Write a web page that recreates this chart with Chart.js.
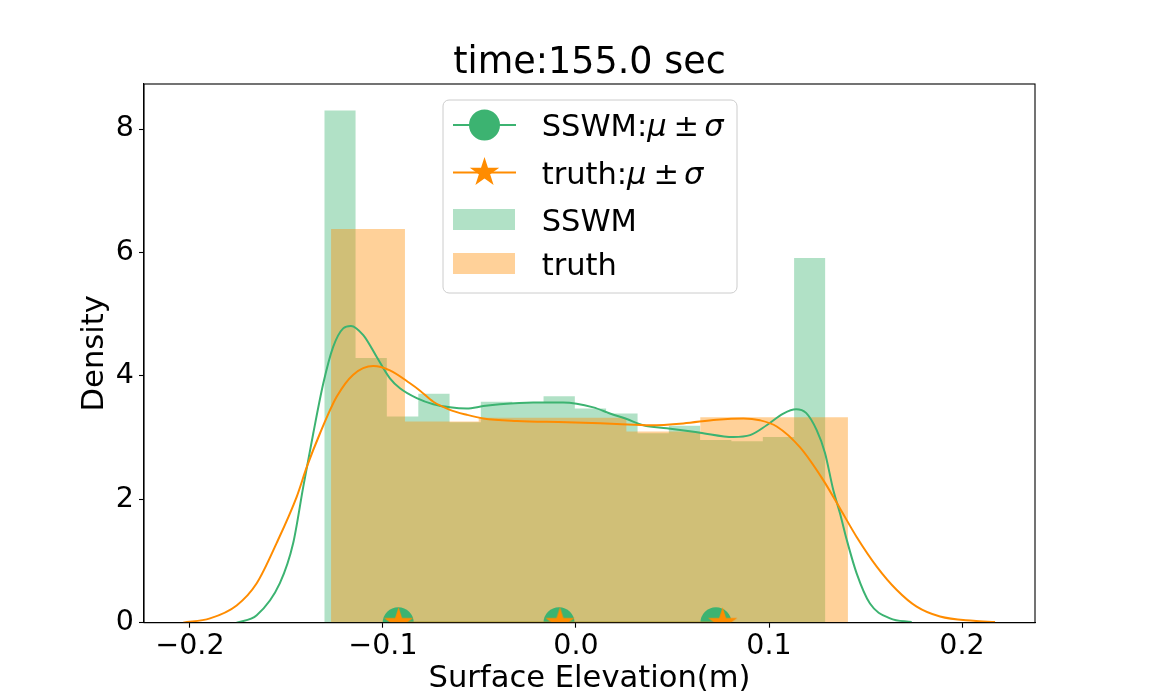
<!DOCTYPE html>
<html>
<head>
<meta charset="utf-8" />
<title>time:155.0 sec</title>
<style>
  html, body { margin: 0; padding: 0; background: #fff; }
</style>
</head>
<body>
<canvas id="chart" width="1150" height="700"></canvas>
<script src="https://cdn.jsdelivr.net/npm/chart.js"></script>
<script>
// series names
const seriesNames = ['SSWM', 'truth'];

// histogram bin edges and densities
const sswmEdges = [-0.1304, -0.1142, -0.0980, -0.0817, -0.0655, -0.0493, -0.0330, -0.0168, -0.0006,
                   0.0156, 0.0319, 0.0481, 0.0643, 0.0805, 0.0968, 0.1130, 0.1292];
const sswmDensity = [8.30, 4.29, 3.34, 3.71, 3.25, 3.58, 3.56, 3.67, 3.47, 3.39, 3.07, 3.19, 2.96, 2.94, 3.01, 5.91];

const truthEdges = [-0.1269, -0.0886, -0.0504, -0.0121, 0.0261, 0.0644, 0.1027, 0.1409];
const truthDensity = [6.38, 3.26, 3.32, 3.32, 3.10, 3.33, 3.33];

// kde curves
const sswmKdeX = [-0.1758, -0.1654, -0.1534, -0.1465, -0.1413, -0.1361, -0.1309, -0.1258, -0.1206, -0.1166,
                  -0.1102, -0.1033, -0.0964, -0.0912, -0.0825, -0.0739, -0.0653, -0.0566, -0.0480, -0.0394,
                  -0.0221, -0.0066, 0.0090, 0.0176, 0.0263, 0.0349, 0.0470, 0.0642, 0.0815, 0.0902,
                  0.0988, 0.1074, 0.1140, 0.1192, 0.1247, 0.1290, 0.1333, 0.1368, 0.1403, 0.1454,
                  0.1523, 0.1627, 0.1739];
const sswmKdeY = [0.00, 0.12, 0.64, 1.29, 2.20, 3.07, 3.88, 4.47, 4.77, 4.81,
                  4.66, 4.31, 3.96, 3.80, 3.64, 3.54, 3.49, 3.47, 3.51, 3.54,
                  3.57, 3.57, 3.49, 3.39, 3.30, 3.20, 3.15, 3.08, 3.01, 3.04,
                  3.20, 3.39, 3.46, 3.40, 3.12, 2.75, 2.15, 1.77, 1.34, 0.80,
                  0.31, 0.07, 0.01];

const truthKdeX = [-0.2035, -0.1896, -0.1758, -0.1654, -0.1551, -0.1447, -0.1395, -0.1326, -0.1240, -0.1154,
                   -0.1050, -0.0964, -0.0860, -0.0808, -0.0739, -0.0653, -0.0566, -0.0480, -0.0307, -0.0048,
                   0.0211, 0.0383, 0.0556, 0.0729, 0.0867, 0.0953, 0.1040, 0.1161, 0.1281, 0.1368,
                   0.1454, 0.1558, 0.1662, 0.1765, 0.1886, 0.2059, 0.2171];
const truthKdeY = [0.00, 0.07, 0.28, 0.64, 1.29, 2.04, 2.52, 3.07, 3.66, 4.02,
                   4.16, 4.09, 3.88, 3.76, 3.58, 3.45, 3.37, 3.31, 3.27, 3.25,
                   3.22, 3.20, 3.23, 3.29, 3.31, 3.28, 3.18, 2.84, 2.31, 1.85,
                   1.39, 0.91, 0.53, 0.26, 0.10, 0.03, 0.01];

// mu - sigma, mu, mu + sigma
const sswmStats = [-0.0921, -0.0088, 0.0725];
const truthStats = [-0.0919, -0.0083, 0.0760];

// axes
const xTicks = [-0.2, -0.1, 0.0, 0.1, 0.2];
const yTicks = [0, 2, 4, 6, 8];

const FONT = '"DejaVu Sans", sans-serif';
const green = '#3cb371';
const orange = '#ff8c00';
const greenFill = 'rgba(60,179,113,0.4)';
const orangeFill = 'rgba(255,140,0,0.4)';

// step outline of a histogram, filled down to zero
function histPoints(edges, heights) {
    const pts = [{ x: edges[0], y: 0 }];
    heights.forEach((h, i) => pts.push({ x: edges[i], y: h }));
    pts.push({ x: edges[edges.length - 1], y: heights[heights.length - 1] });
    pts.push({ x: edges[edges.length - 1], y: 0 });
    return pts;
}

function zip(xs, ys) {
    return xs.map((x, i) => ({ x: x, y: ys[i] }));
}

// filled 5 point star like matplotlib '*'
function makeStar(r, color) {
    const c = document.createElement('canvas');
    const s = Math.ceil(r * 2 + 4);
    c.width = s;
    c.height = s;
    const g = c.getContext('2d');
    g.fillStyle = color;
    g.beginPath();
    for (let i = 0; i < 10; i++) {
        const rad = i % 2 === 0 ? r : r * 0.381966;
        const a = -Math.PI / 2 + i * Math.PI / 5;
        g.lineTo(s / 2 + rad * Math.cos(a), s / 2 + rad * Math.sin(a));
    }
    g.closePath();
    g.fill();
    return c;
}

const starImg = makeStar(15.5, orange);

function fmtX(v) {
    if (Math.abs(v) < 1e-9) return '0.0';
    return (v < 0 ? '\u2212' : '') + Math.abs(v).toFixed(1);
}

// top/right spines over the data
const spinesPlugin = {
    id: 'spines',
    afterDatasetsDraw(chart) {
        const a = chart.chartArea;
        const ctx = chart.ctx;
        ctx.save();
        ctx.strokeStyle = '#000';
        ctx.lineWidth = 1.1;
        ctx.strokeRect(a.left, a.top, a.right - a.left, a.bottom - a.top);
        ctx.restore();
    }
};

function mathLabel(ctx, x, y, prefix) {
    ctx.font = '30.5px ' + FONT;
    ctx.fillText(prefix, x, y);
    let cx = x + ctx.measureText(prefix).width;
    ctx.font = 'italic 30.5px ' + FONT;
    ctx.fillText('\u03bc', cx, y);
    cx += ctx.measureText('\u03bc').width + 7;
    ctx.font = '30.5px ' + FONT;
    ctx.fillText('\u00b1', cx, y);
    cx += ctx.measureText('\u00b1').width + 5;
    ctx.font = 'italic 30.5px ' + FONT;
    ctx.fillText('\u03c3', cx, y);
}

// legend box inside the plot, like matplotlib's
const legendPlugin = {
    id: 'boxLegend',
    afterDraw(chart) {
        const ctx = chart.ctx;
        const x0 = 443, y0 = 100, w = 294, h = 193, r = 6;
        ctx.save();
        ctx.beginPath();
        ctx.moveTo(x0 + r, y0);
        ctx.arcTo(x0 + w, y0, x0 + w, y0 + h, r);
        ctx.arcTo(x0 + w, y0 + h, x0, y0 + h, r);
        ctx.arcTo(x0, y0 + h, x0, y0, r);
        ctx.arcTo(x0, y0, x0 + w, y0, r);
        ctx.closePath();
        ctx.fillStyle = 'rgba(255,255,255,0.8)';
        ctx.fill();
        ctx.strokeStyle = '#cccccc';
        ctx.lineWidth = 1;
        ctx.stroke();

        const hx0 = 453, hx1 = 516, hc = 484.5, tx = 541.7;
        const rows = [125, 172.5, 219.5, 263.5];

        // marker lines
        ctx.lineWidth = 2;
        ctx.strokeStyle = green;
        ctx.beginPath(); ctx.moveTo(hx0, rows[0]); ctx.lineTo(hx1, rows[0]); ctx.stroke();
        ctx.fillStyle = green;
        ctx.beginPath(); ctx.arc(hc, rows[0], 15.5, 0, Math.PI * 2); ctx.fill();

        ctx.strokeStyle = orange;
        ctx.beginPath(); ctx.moveTo(hx0, rows[1]); ctx.lineTo(hx1, rows[1]); ctx.stroke();
        ctx.drawImage(starImg, hc - starImg.width / 2, rows[1] - starImg.height / 2);

        // patches
        ctx.fillStyle = greenFill;
        ctx.fillRect(hx0, rows[2] - 10.5, hx1 - hx0 - 1, 21);
        ctx.fillStyle = orangeFill;
        ctx.fillRect(hx0, rows[3] - 10.5, hx1 - hx0 - 1, 21);

        // texts
        ctx.fillStyle = '#000';
        ctx.textBaseline = 'alphabetic';
        ctx.textAlign = 'left';
        const off = 11;
        mathLabel(ctx, tx, rows[0] + off, seriesNames[0] + ':');
        mathLabel(ctx, tx, rows[1] + off, seriesNames[1] + ':');
        ctx.font = '30.5px ' + FONT;
        ctx.fillText(seriesNames[0], tx, rows[2] + off);
        ctx.fillText(seriesNames[1], tx, rows[3] + off);
        ctx.restore();
    }
};

const ctx = document.getElementById('chart').getContext('2d');
const myChart = new Chart(ctx, {
    type: 'line',
    data: {
        datasets: [
            {
                label: seriesNames[0],
                data: histPoints(sswmEdges, sswmDensity),
                stepped: 'before',
                fill: 'origin',
                backgroundColor: greenFill,
                borderColor: 'transparent',
                borderWidth: 1,
                pointRadius: 0,
                order: 6,
                clip: 0
            },
            {
                label: seriesNames[0] + ' kde',
                data: zip(sswmKdeX, sswmKdeY),
                borderColor: green,
                borderWidth: 2,
                pointRadius: 0,
                cubicInterpolationMode: 'monotone',
                fill: false,
                order: 4
            },
            {
                label: seriesNames[1],
                data: histPoints(truthEdges, truthDensity),
                stepped: 'before',
                fill: 'origin',
                backgroundColor: orangeFill,
                borderColor: 'transparent',
                borderWidth: 1,
                pointRadius: 0,
                order: 5,
                clip: 0
            },
            {
                label: seriesNames[1] + ' kde',
                data: zip(truthKdeX, truthKdeY),
                borderColor: orange,
                borderWidth: 2,
                pointRadius: 0,
                cubicInterpolationMode: 'monotone',
                fill: false,
                order: 3
            },
            {
                label: seriesNames[0] + ':\u03bc \u00b1 \u03c3',
                data: sswmStats.map(v => ({ x: v, y: 0 })),
                borderColor: green,
                borderWidth: 2,
                pointStyle: 'circle',
                pointRadius: 15.5,
                pointBackgroundColor: green,
                pointBorderWidth: 0,
                fill: false,
                order: 2,
                clip: 0
            },
            {
                label: seriesNames[1] + ':\u03bc \u00b1 \u03c3',
                data: truthStats.map(v => ({ x: v, y: 0 })),
                borderColor: orange,
                borderWidth: 2,
                pointStyle: starImg,
                pointRadius: 15.5,
                fill: false,
                order: 1,
                clip: 0
            }
        ]
    },
    options: {
        responsive: false,
        animation: false,
        events: [],
        devicePixelRatio: 1,
        layout: { padding: { left: 0, right: 115, top: 0, bottom: 0 } },
        plugins: {
            legend: { display: false },
            tooltip: { enabled: false },
            title: {
                display: true,
                text: 'time:155.0 sec',
                color: '#000',
                fullSize: false,
                font: { family: FONT, size: 36.5, weight: 'normal', lineHeight: 1 },
                padding: { top: 45.7, bottom: 1.8 }
            }
        },
        scales: {
            x: {
                type: 'linear',
                min: -0.2238,
                max: 0.2378,
                afterBuildTicks: s => { s.ticks = xTicks.map(v => ({ value: v })); },
                afterFit: s => { s.height = 77.3; },
                grid: { drawOnChartArea: false, drawTicks: true, tickLength: 5, tickWidth: 1.1, tickColor: '#000' },
                border: { display: true, color: '#000', width: 1.1 },
                ticks: {
                    color: '#000', padding: 2, maxRotation: 0, autoSkip: false,
                    font: { family: FONT, size: 28.5 },
                    callback: v => fmtX(v)
                },
                title: {
                    display: true, text: 'Surface Elevation(m)', color: '#000',
                    font: { family: FONT, size: 30.6, lineHeight: 1.2 },
                    padding: { top: 0, bottom: 2.5 }
                }
            },
            y: {
                type: 'linear',
                min: 0,
                max: 8.73,
                afterBuildTicks: s => { s.ticks = yTicks.map(v => ({ value: v })); },
                afterFit: s => { s.width = 144; },
                grid: { drawOnChartArea: false, drawTicks: true, tickLength: 5, tickWidth: 1.1, tickColor: '#000' },
                border: { display: true, color: '#000', width: 1.1 },
                ticks: {
                    color: '#000', padding: 5,
                    font: { family: FONT, size: 28.5 },
                    callback: v => String(v)
                },
                title: {
                    display: true, text: 'Density', color: '#000',
                    font: { family: FONT, size: 30.6, lineHeight: 1.2 },
                    padding: { top: 76.5, bottom: 0 }
                }
            }
        }
    },
    plugins: [spinesPlugin, legendPlugin]
});
</script>
</body>
</html>
